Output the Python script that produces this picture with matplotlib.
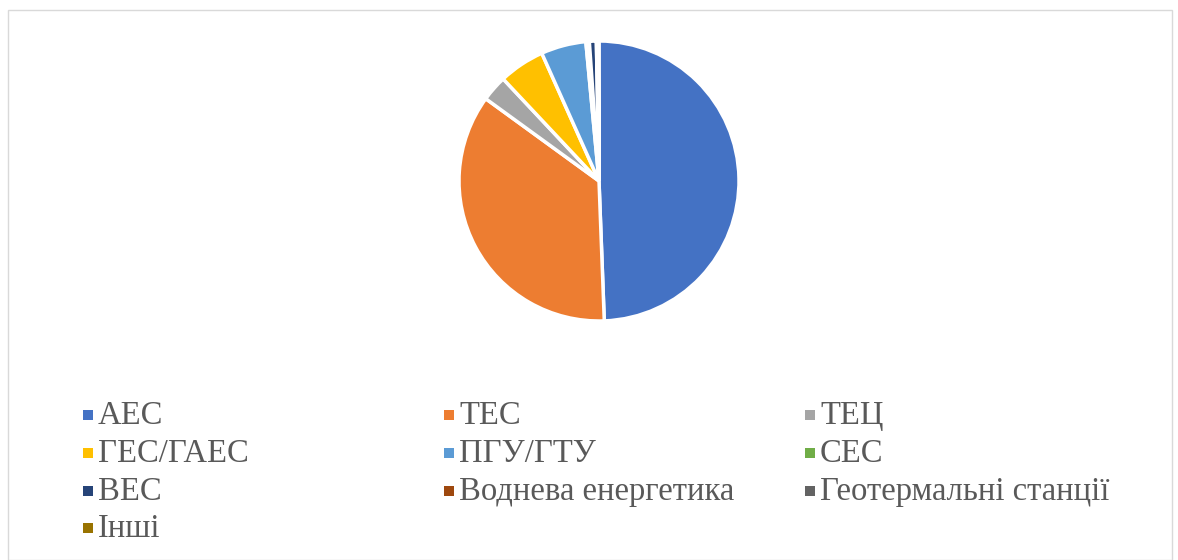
import matplotlib.pyplot as plt
from matplotlib.patches import Rectangle

# --- Data ---
labels = ['АЕС', 'ТЕС', 'ТЕЦ', 'ГЕС/ГАЕС', 'ПГУ/ГТУ', 'СЕС', 'ВЕС',
          'Воднева енергетика', 'Геотермальні станції', 'Інші']
shares = [49.4, 35.6, 3.0, 5.3, 5.2, 0.4, 0.8, 0.1, 0.1, 0.1]
colors = ['#4472C4', '#ED7D31', '#A5A5A5', '#FFC000', '#5B9BD5',
          '#70AD47', '#264478', '#9E480E', '#636363', '#997300']

W, H = 1178, 560
fig = plt.figure(figsize=(W / 100, H / 100), dpi=100)

# chart border
fig.add_artist(Rectangle((8 / W, 0), 1164 / W, 1 - 10 / H, transform=fig.transFigure,
                         fill=False, edgecolor='#D9D9D9', lw=1))

# pie
cx, cy, r = 599, 181, 140
ax = fig.add_axes([(cx - r) / W, 1 - (cy + r) / H, 2 * r / W, 2 * r / H])
ax.pie(shares, colors=colors, startangle=90, counterclock=False,
       wedgeprops=dict(edgecolor='white', linewidth=2.5))
ax.set_xlim(-1.0, 1.0)
ax.set_ylim(-1.0, 1.0)
ax.set_aspect('equal')
ax.axis('off')

# legend, row-major in 3 columns
col_x = [83, 444, 805]
row_y = [415, 453, 491, 528]
for i, (lab, col) in enumerate(zip(labels, colors)):
    x = col_x[i % 3]
    y = row_y[i // 3]
    fig.add_artist(Rectangle((x / W, 1 - (y + 5) / H), 10 / W, 10 / H,
                             transform=fig.transFigure, color=col, lw=0))
    fig.text((x + 15) / W, 1 - (y + 1) / H, lab, fontsize=23.5, color='#595959',
             family='Liberation Serif', va='center', ha='left')

fig.savefig('out.png', dpi=100)
